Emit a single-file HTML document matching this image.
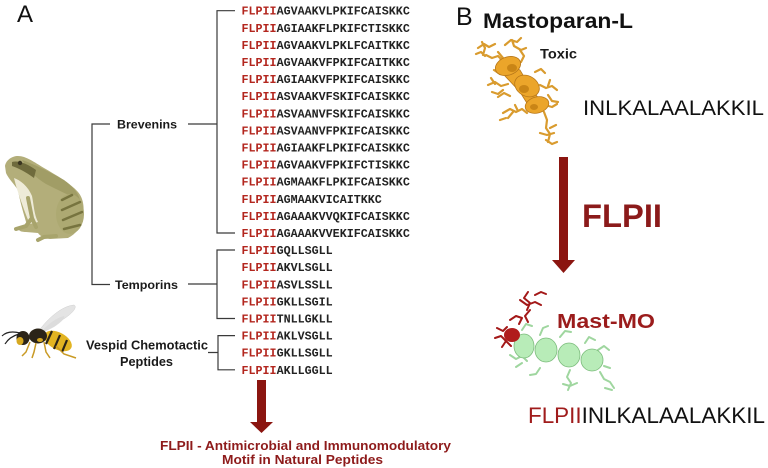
<!DOCTYPE html>
<html><head><meta charset="utf-8"><style>
html,body{margin:0;padding:0;background:#fff;}
svg{display:block;}
.seq{font-family:"Liberation Mono",monospace;font-weight:bold;font-size:11.7px;fill:#222;}
.r{fill:#b3261e;}
.lab{font-family:"Liberation Sans",sans-serif;font-weight:bold;}
.ln{stroke:#3a3a3a;stroke-width:1.2;fill:none;}
</style></head><body>
<svg width="768" height="468" viewBox="0 0 768 468" xmlns="http://www.w3.org/2000/svg">
<rect width="768" height="468" fill="#fff"/>
<!-- Panel letters -->
<text x="17" y="22" font-family="Liberation Sans, sans-serif" font-size="24" fill="#111">A</text>
<text x="456" y="25" font-family="Liberation Sans, sans-serif" font-size="25" fill="#111">B</text>

<!-- Sequences -->
<g class="seq">
<text x="241.5" y="14.7"><tspan class="r">FLPII</tspan>AGVAAKVLPKIFCAISKKC</text>
<text x="241.5" y="31.8"><tspan class="r">FLPII</tspan>AGIAAKFLPKIFCTISKKC</text>
<text x="241.5" y="48.9"><tspan class="r">FLPII</tspan>AGVAAKVLPKLFCAITKKC</text>
<text x="241.5" y="66.0"><tspan class="r">FLPII</tspan>AGVAAKVFPKIFCAITKKC</text>
<text x="241.5" y="83.1"><tspan class="r">FLPII</tspan>AGIAAKVFPKIFCAISKKC</text>
<text x="241.5" y="100.2"><tspan class="r">FLPII</tspan>ASVAAKVFSKIFCAISKKC</text>
<text x="241.5" y="117.3"><tspan class="r">FLPII</tspan>ASVAANVFSKIFCAISKKC</text>
<text x="241.5" y="134.4"><tspan class="r">FLPII</tspan>ASVAANVFPKIFCAISKKC</text>
<text x="241.5" y="151.5"><tspan class="r">FLPII</tspan>AGIAAKFLPKIFCAISKKC</text>
<text x="241.5" y="168.6"><tspan class="r">FLPII</tspan>AGVAAKVFPKIFCTISKKC</text>
<text x="241.5" y="185.7"><tspan class="r">FLPII</tspan>AGMAAKFLPKIFCAISKKC</text>
<text x="241.5" y="202.8"><tspan class="r">FLPII</tspan>AGMAAKVICAITKKC</text>
<text x="241.5" y="219.9"><tspan class="r">FLPII</tspan>AGAAAKVVQKIFCAISKKC</text>
<text x="241.5" y="237.0"><tspan class="r">FLPII</tspan>AGAAAKVVEKIFCAISKKC</text>
<text x="241.5" y="254.1"><tspan class="r">FLPII</tspan>GQLLSGLL</text>
<text x="241.5" y="271.2"><tspan class="r">FLPII</tspan>AKVLSGLL</text>
<text x="241.5" y="288.3"><tspan class="r">FLPII</tspan>ASVLSSLL</text>
<text x="241.5" y="305.4"><tspan class="r">FLPII</tspan>GKLLSGIL</text>
<text x="241.5" y="322.5"><tspan class="r">FLPII</tspan>TNLLGKLL</text>
<text x="241.5" y="339.6"><tspan class="r">FLPII</tspan>AKLVSGLL</text>
<text x="241.5" y="356.7"><tspan class="r">FLPII</tspan>GKLLSGLL</text>
<text x="241.5" y="373.8"><tspan class="r">FLPII</tspan>AKLLGGLL</text>
</g>

<!-- Brackets -->
<path class="ln" d="M235,10.7 H217 V233 H235 M188,124 H217"/>
<path class="ln" d="M235,250 H217 V318.5 H235 M188,284 H217"/>
<path class="ln" d="M235,335.6 H218 V369.8 H235 M208,352.5 H218"/>
<path class="ln" d="M110,124 H92 V284.5 H110"/>

<!-- Labels -->
<text class="lab" style="fill:#1a1a1a" x="117" y="128.5" font-size="12.4" textLength="60" lengthAdjust="spacingAndGlyphs">Brevenins</text>
<text class="lab" style="fill:#1a1a1a" x="115" y="289" font-size="12.4" textLength="63" lengthAdjust="spacingAndGlyphs">Temporins</text>
<text class="lab" style="fill:#1a1a1a" x="86" y="349.5" font-size="12.6" textLength="122" lengthAdjust="spacingAndGlyphs">Vespid Chemotactic</text>
<text class="lab" style="fill:#1a1a1a" x="120" y="366" font-size="12.6" textLength="53" lengthAdjust="spacingAndGlyphs">Peptides</text>

<!-- Arrow A -->
<rect x="257" y="380" width="9" height="43" fill="#8b1510"/>
<polygon points="250,422 273,422 261.5,433" fill="#8b1510"/>
<g font-family="Liberation Sans, sans-serif" font-weight="bold" fill="#8e1b1b">
<text x="160" y="450" font-size="13" textLength="291" lengthAdjust="spacingAndGlyphs">FLPII - Antimicrobial and Immunomodulatory</text>
<text x="222" y="464" font-size="13" textLength="161" lengthAdjust="spacingAndGlyphs">Motif in Natural Peptides</text>
</g>

<!-- Frog -->
<g>
<path d="M5,166 C6,160 12,156 18,156 C26,156 34,162 44,168 C56,175 70,183 78,192 C84,199 85,210 82,220 C80,228 76,234 68,238 L50,239 C44,238 40,236 38,233 L26,232 C20,232 17,230 20,227 L27,225 C24,215 20,202 18,190 C14,184 8,178 6,173 Z" fill="#b3ae7a"/>
<path d="M22,160 C34,164 50,172 64,180 C72,186 78,192 80,200 C70,196 58,190 46,184 C36,178 28,170 22,160 Z" fill="#a19d66"/>
<path d="M12,162 C18,160 28,164 36,170 L34,178 C26,172 18,168 12,166 Z" fill="#6f6b3d"/>
<path d="M14,178 C20,180 28,186 32,196 C34,206 34,214 38,222 L30,224 C26,216 22,204 18,192 C16,186 15,182 14,178 Z" fill="#eeebd8"/>
<ellipse cx="70" cy="214" rx="14" ry="20" fill="#ada972"/>
<g stroke="#77743f" stroke-width="2.5" stroke-linecap="round">
<line x1="62" y1="200" x2="72" y2="195"/>
<line x1="62" y1="210" x2="80" y2="202"/>
<line x1="63" y1="220" x2="82" y2="212"/>
<line x1="64" y1="229" x2="80" y2="225"/>
</g>
<path d="M28,198 L32,218 L26,226 L16,229 M32,218 L36,227 M56,236 L44,237 L38,240" stroke="#a8a46c" stroke-width="4" fill="none" stroke-linecap="round"/>
<circle cx="20" cy="163" r="2.2" fill="#3a3520"/>
</g>

<!-- Wasp -->
<g>
<path d="M38,332 C48,318 62,306 74,305 C78,307 72,314 62,320 C54,326 46,331 38,334 Z" fill="#e4e4e4" stroke="#cfcfcf" stroke-width="0.5"/>
<path d="M40,333 C48,324 56,318 64,316 C66,318 60,323 54,327 C48,330 44,332 40,334 Z" fill="#dcdcdc"/>
<ellipse cx="58" cy="341" rx="15" ry="8.5" transform="rotate(28 58 341)" fill="#e2b422"/>
<g stroke="#2b2418" stroke-width="2.2">
<line x1="52" y1="331" x2="46" y2="344"/>
<line x1="60" y1="335" x2="54" y2="349"/>
<line x1="67" y1="340" x2="62" y2="352"/>
</g>
<ellipse cx="38" cy="336" rx="9" ry="7.5" fill="#2b2418"/>
<ellipse cx="40" cy="340" rx="3" ry="2" fill="#d6a820"/>
<ellipse cx="23" cy="338" rx="6.5" ry="7" fill="#2b2418"/>
<ellipse cx="20" cy="341" rx="3.5" ry="4" fill="#d6a820"/>
<path d="M20,333 C12,331 6,332 2,336 M19,334 C12,336 8,339 5,344" stroke="#222" stroke-width="1.2" fill="none"/>
<path d="M30,342 L26,352 L22,356 M36,343 L34,352 L32,358 M44,342 L46,352 L50,358 M56,346 L64,354 L76,358" stroke="#c99a24" stroke-width="1.5" fill="none"/>
</g>

<!-- Panel B titles -->
<text class="lab" style="fill:#111" x="483" y="28" font-size="21" textLength="150" lengthAdjust="spacingAndGlyphs">Mastoparan-L</text>
<text class="lab" style="fill:#1a1a1a" x="540" y="58.5" font-size="13.5" textLength="37" lengthAdjust="spacingAndGlyphs">Toxic</text>
<text x="583" y="115" font-family="Liberation Sans, sans-serif" font-size="21" fill="#111" textLength="181" lengthAdjust="spacingAndGlyphs">INLKALAALAKKIL</text>

<!-- Orange molecule -->
<g stroke="#d99b2e" stroke-width="2.2" fill="none" stroke-linecap="round" stroke-linejoin="round">
<path d="M478,48 l6,-4 l5,3 l6,-3 M482,42 l3,6 l-2,7 M486,55 l6,3 l6,-2 l4,4 M505,45 l6,-5 l6,2 l4,-4 M512,40 l2,6 l7,4 l5,-2 M520,50 l4,6 l-3,6 M498,52 l5,6 M476,54 l5,-2 l4,4"/>
<path d="M488,85 l7,-3 l6,4 l7,-2 M492,92 l6,2 l5,-4 M491,78 l4,6 M498,97 l6,-4 l6,3 M494,70 l6,4 l5,-3"/>
<path d="M503,113 l7,-4 l6,3 l6,-3 l5,4 M508,118 l5,-6 M515,105 l3,6 M500,120 l6,-2"/>
<path d="M540,85 l6,3 l6,-2 l5,4 M548,95 l4,6 l6,1 M550,80 l-2,6 M545,105 l7,2 l5,-3 M535,72 l6,-3 l4,4"/>
<path d="M544,112 l3,8 l-1,8 l4,6 l-2,8 M540,133 l7,2 l7,-2 M546,140 l6,4 l5,-2 M550,128 l6,-3"/>
</g>
<g fill="#eba52a" stroke="#b8781a" stroke-width="0.8">
<path d="M500,60 L520,70 L532,90 L540,100 L530,108 L520,92 L505,76 Z"/>
<ellipse cx="508" cy="66" rx="13" ry="9" transform="rotate(-20 508 66)"/>
<ellipse cx="527" cy="86" rx="13" ry="10" transform="rotate(30 527 86)"/>
<ellipse cx="537" cy="105" rx="12" ry="8" transform="rotate(-15 537 105)"/>
</g>
<g fill="#c98516">
<ellipse cx="512" cy="68" rx="5" ry="4"/>
<ellipse cx="524" cy="89" rx="5" ry="4"/>
<ellipse cx="534" cy="107" rx="4" ry="3"/>
</g>

<!-- Arrow B -->
<rect x="559" y="157" width="9" height="104" fill="#8b1510"/>
<polygon points="552,260 575,260 563.5,273" fill="#8b1510"/>
<text class="lab" style="fill:#8b1a1a" x="582" y="227" font-size="32" textLength="80" lengthAdjust="spacingAndGlyphs">FLPII</text>

<!-- Green molecule with red part -->
<g stroke="#9fd69f" stroke-width="2" fill="none" stroke-linecap="round" stroke-linejoin="round">
<path d="M510,355 l6,4 l6,-3 l5,5 M522,330 l4,-6 l6,2 M540,335 l3,-7 l5,-2 M560,337 l5,-6 l6,1 M585,343 l4,-6 l6,3 M598,350 l6,-4 l5,4 M604,366 l6,2 M570,370 l-3,7 l4,6 l-3,7 M563,384 l7,2 l7,-3 M600,372 l4,7 l6,3 l4,6 M605,388 l7,2 M540,368 l-4,6 l-6,1 M522,363 l-6,4"/>
</g>
<g fill="#b8ecb8" stroke="#7cbc7c" stroke-width="0.8">
<ellipse cx="524" cy="346" rx="10" ry="12"/>
<ellipse cx="546" cy="350" rx="11" ry="12"/>
<ellipse cx="569" cy="355" rx="11" ry="12"/>
<ellipse cx="592" cy="360" rx="11" ry="11"/>
</g>
<g stroke="#a31818" stroke-width="2" fill="none" stroke-linecap="round" stroke-linejoin="round">
<path d="M528,292 l-4,6 l6,5 l-3,7 M535,295 l6,-3 l5,2 M520,300 l7,5 l8,-3 l6,3 M530,310 l-5,6 l3,6 M510,320 l6,-4 l6,2 l-3,6 M497,328 l6,3 l4,-4 M495,338 l6,-2 l5,5 l-4,6 M505,340 l6,6"/>
</g>
<ellipse cx="512" cy="335" rx="8" ry="7" fill="#b01c1c"/>
<text class="lab" style="fill:#9b1c1c" x="557" y="328" font-size="20" textLength="98" lengthAdjust="spacingAndGlyphs">Mast-MO</text>
<text x="528" y="423" font-family="Liberation Sans, sans-serif" font-size="22" fill="#111" textLength="237" lengthAdjust="spacingAndGlyphs"><tspan fill="#a01c1c">FLPII</tspan>INLKALAALAKKIL</text>
</svg>
</body></html>
